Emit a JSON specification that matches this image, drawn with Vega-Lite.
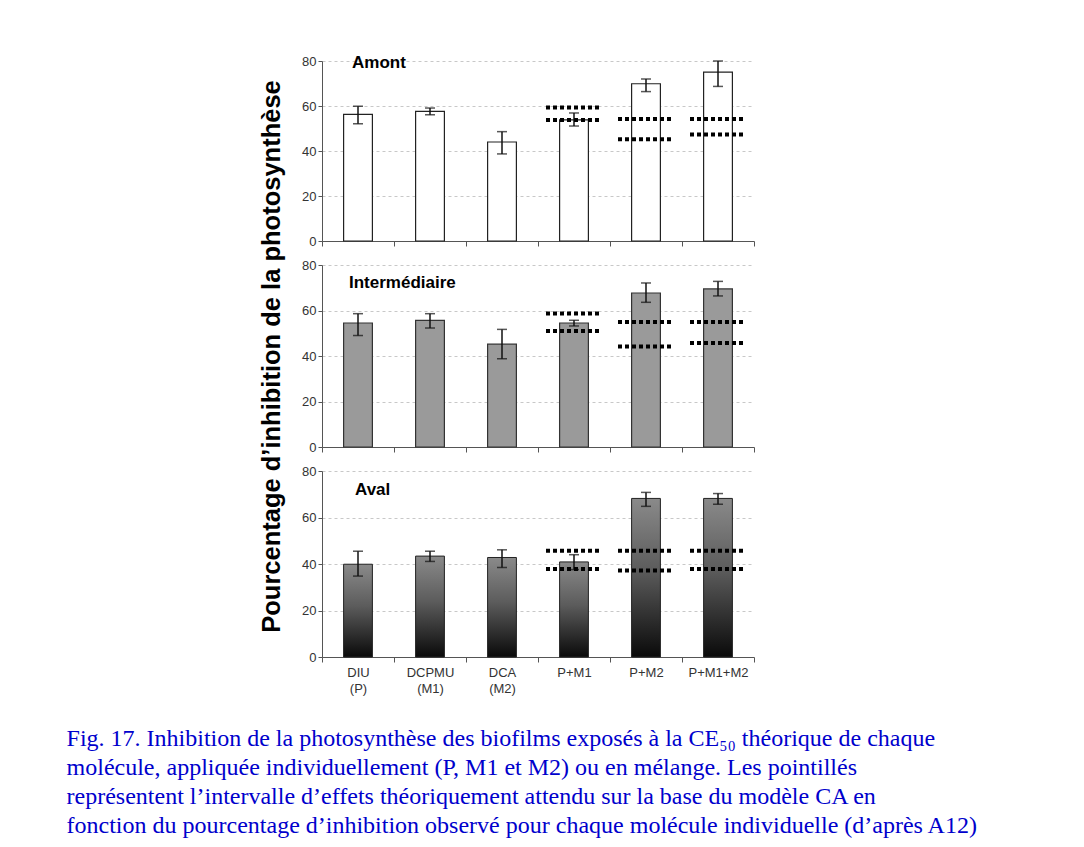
{
  "$schema": "https://vega.github.io/schema/vega-lite/v6.json",
  "background": "white",
  "padding": {"left": 66, "top": 54, "right": 5, "bottom": 5},
  "bounds": "flush",
  "spacing": 24,
  "datasets": {
    "bars": [
      {"panel": "Amont", "cat": "DIU (P)", "value": 56.3, "lo": 52.1, "hi": 59.9},
      {"panel": "Amont", "cat": "DCPMU (M1)", "value": 57.6, "lo": 56.1, "hi": 59.1},
      {"panel": "Amont", "cat": "DCA (M2)", "value": 44.0, "lo": 38.7, "hi": 48.6},
      {"panel": "Amont", "cat": "P+M1", "value": 53.8, "lo": 51.1, "hi": 56.9},
      {"panel": "Amont", "cat": "P+M2", "value": 69.9, "lo": 66.4, "hi": 72.0},
      {"panel": "Amont", "cat": "P+M1+M2", "value": 75.1, "lo": 68.7, "hi": 80.0},
      {"panel": "Inter", "cat": "DIU (P)", "value": 54.5, "lo": 49.0, "hi": 58.6},
      {"panel": "Inter", "cat": "DCPMU (M1)", "value": 55.7, "lo": 52.3, "hi": 58.6},
      {"panel": "Inter", "cat": "DCA (M2)", "value": 45.2, "lo": 38.8, "hi": 51.7},
      {"panel": "Inter", "cat": "P+M1", "value": 54.5, "lo": 53.2, "hi": 55.7},
      {"panel": "Inter", "cat": "P+M2", "value": 67.7, "lo": 63.6, "hi": 72.1},
      {"panel": "Inter", "cat": "P+M1+M2", "value": 69.5, "lo": 66.4, "hi": 72.8},
      {"panel": "Aval", "cat": "DIU (P)", "value": 39.9, "lo": 34.8, "hi": 45.5},
      {"panel": "Aval", "cat": "DCPMU (M1)", "value": 43.4, "lo": 41.1, "hi": 45.5},
      {"panel": "Aval", "cat": "DCA (M2)", "value": 42.8, "lo": 38.5, "hi": 46.1},
      {"panel": "Aval", "cat": "P+M1", "value": 40.9, "lo": 37.6, "hi": 44.0},
      {"panel": "Aval", "cat": "P+M2", "value": 68.2, "lo": 64.8, "hi": 70.8},
      {"panel": "Aval", "cat": "P+M1+M2", "value": 68.2, "lo": 65.7, "hi": 70.3}
    ],
    "dots": [
      {"panel": "Amont", "cat": "P+M1", "y": 59.3},
      {"panel": "Amont", "cat": "P+M1", "y": 53.8},
      {"panel": "Amont", "cat": "P+M2", "y": 54.2},
      {"panel": "Amont", "cat": "P+M2", "y": 45.2},
      {"panel": "Amont", "cat": "P+M1+M2", "y": 54.2},
      {"panel": "Amont", "cat": "P+M1+M2", "y": 47.3},
      {"panel": "Inter", "cat": "P+M1", "y": 58.7},
      {"panel": "Inter", "cat": "P+M1", "y": 51.0},
      {"panel": "Inter", "cat": "P+M2", "y": 54.9},
      {"panel": "Inter", "cat": "P+M2", "y": 44.2},
      {"panel": "Inter", "cat": "P+M1+M2", "y": 54.9},
      {"panel": "Inter", "cat": "P+M1+M2", "y": 45.7},
      {"panel": "Aval", "cat": "P+M1", "y": 45.7},
      {"panel": "Aval", "cat": "P+M1", "y": 37.9},
      {"panel": "Aval", "cat": "P+M2", "y": 45.7},
      {"panel": "Aval", "cat": "P+M2", "y": 37.2},
      {"panel": "Aval", "cat": "P+M1+M2", "y": 45.7},
      {"panel": "Aval", "cat": "P+M1+M2", "y": 37.9}
    ]
  },
  "title": {
    "text": [
      "Fig. 17. Inhibition de la photosynthèse des biofilms exposés à la CE₅₀ théorique de chaque",
      "molécule, appliquée individuellement (P, M1 et M2) ou en mélange. Les pointillés",
      "représentent l’intervalle d’effets théoriquement attendu sur la base du modèle CA en",
      "fonction du pourcentage d’inhibition observé pour chaque molécule individuelle (d’après A12)"
    ],
    "orient": "bottom",
    "anchor": "start",
    "frame": "bounds",
    "dx": -193,
    "offset": 32,
    "font": "Liberation Serif",
    "fontSize": 24,
    "fontWeight": "normal",
    "lineHeight": 29,
    "color": "#0000cc"
  },
  "config": {
    "font": "Liberation Sans",
    "view": {"stroke": null},
    "text": {"font": "Liberation Sans", "fontSize": 17, "fontWeight": "bold", "color": "black", "align": "left", "baseline": "alphabetic"},
    "axis": {
      "domainColor": "#555555",
      "tickColor": "#555555",
      "labelColor": "#333333",
      "labelFontSize": 13,
      "labelFont": "Liberation Sans",
      "tickSize": 4,
      "gridColor": "#c8c8c8",
      "gridDash": [3, 3]
    },
    "axisY": {
      "grid": true,
      "labelPadding": 2,
      "titleFontSize": 25.5,
      "titleFontWeight": "bold",
      "titleColor": "black",
      "titleFont": "Liberation Sans",
      "titlePadding": 17
    },
    "axisX": {
      "grid": false,
      "tickBand": "extent",
      "labelAngle": 0,
      "labelPadding": 4,
      "tickSize": 5,
      "labelLineHeight": 16
    }
  },
  "vconcat": [
    {
      "width": 432,
      "height": 180,
      "layer": [
        {
          "data": {"name": "bars"},
          "transform": [{"filter": "datum.panel === 'Amont'"}],
          "mark": {"type": "bar", "width": {"band": 0.4}, "fill": "white", "stroke": "#222222", "strokeWidth": 1.2},
          "encoding": {
            "x": {"field": "cat", "type": "nominal", "sort": ["DIU (P)", "DCPMU (M1)", "DCA (M2)", "P+M1", "P+M2", "P+M1+M2"], "scale": {"paddingInner": 0, "paddingOuter": 0}, "axis": {"labels": false, "title": null}},
            "y": {"field": "value", "type": "quantitative", "scale": {"domain": [0, 80]}, "axis": {"values": [0, 20, 40, 60, 80], "title": null}}
          }
        },
        {
          "data": {"name": "bars"},
          "transform": [{"filter": "datum.panel === 'Amont'"}],
          "mark": {"type": "errorbar", "ticks": {"size": 10, "color": "#111111", "thickness": 1.5}, "rule": {"strokeWidth": 1.5, "color": "#111111"}},
          "encoding": {
            "x": {"field": "cat", "type": "nominal", "sort": ["DIU (P)", "DCPMU (M1)", "DCA (M2)", "P+M1", "P+M2", "P+M1+M2"]},
            "y": {"field": "lo", "type": "quantitative", "title": null},
            "y2": {"field": "hi"}
          }
        },
        {
          "data": {"name": "dots"},
          "transform": [{"filter": "datum.panel === 'Amont'"}],
          "mark": {"type": "rule", "strokeDash": [4, 3], "strokeWidth": 4, "color": "black", "xOffset": -28, "x2Offset": 28},
          "encoding": {
            "x": {"field": "cat", "type": "nominal", "sort": ["DIU (P)", "DCPMU (M1)", "DCA (M2)", "P+M1", "P+M2", "P+M1+M2"], "bandPosition": 0.5},
            "x2": {"field": "cat"},
            "y": {"field": "y", "type": "quantitative", "title": null}
          }
        },
        {
          "data": {"values": [{"label": "Amont"}]},
          "mark": {"type": "text", "dx": 30, "dy": 7},
          "encoding": {
            "x": {"datum": "DIU (P)", "bandPosition": 0},
            "y": {"datum": 80},
            "text": {"field": "label"}
          }
        }
      ]
    },
    {
      "width": 432,
      "height": 182,
      "layer": [
        {
          "data": {"name": "bars"},
          "transform": [{"filter": "datum.panel === 'Inter'"}],
          "mark": {"type": "bar", "width": {"band": 0.4}, "fill": "#9a9a9a", "stroke": "#333333", "strokeWidth": 1.2},
          "encoding": {
            "x": {"field": "cat", "type": "nominal", "sort": ["DIU (P)", "DCPMU (M1)", "DCA (M2)", "P+M1", "P+M2", "P+M1+M2"], "scale": {"paddingInner": 0, "paddingOuter": 0}, "axis": {"labels": false, "title": null}},
            "y": {"field": "value", "type": "quantitative", "scale": {"domain": [0, 80]}, "title": "Pourcentage d’inhibition de la photosynthèse", "axis": {"values": [0, 20, 40, 60, 80]}}
          }
        },
        {
          "data": {"name": "bars"},
          "transform": [{"filter": "datum.panel === 'Inter'"}],
          "mark": {"type": "errorbar", "ticks": {"size": 10, "color": "#111111", "thickness": 1.5}, "rule": {"strokeWidth": 1.5, "color": "#111111"}},
          "encoding": {
            "x": {"field": "cat", "type": "nominal", "sort": ["DIU (P)", "DCPMU (M1)", "DCA (M2)", "P+M1", "P+M2", "P+M1+M2"]},
            "y": {"field": "lo", "type": "quantitative", "title": "Pourcentage d’inhibition de la photosynthèse"},
            "y2": {"field": "hi"}
          }
        },
        {
          "data": {"name": "dots"},
          "transform": [{"filter": "datum.panel === 'Inter'"}],
          "mark": {"type": "rule", "strokeDash": [4, 3], "strokeWidth": 4, "color": "black", "xOffset": -28, "x2Offset": 28},
          "encoding": {
            "x": {"field": "cat", "type": "nominal", "sort": ["DIU (P)", "DCPMU (M1)", "DCA (M2)", "P+M1", "P+M2", "P+M1+M2"], "bandPosition": 0.5},
            "x2": {"field": "cat"},
            "y": {"field": "y", "type": "quantitative", "title": "Pourcentage d’inhibition de la photosynthèse"}
          }
        },
        {
          "data": {"values": [{"label": "Intermédiaire"}]},
          "mark": {"type": "text", "dx": 27, "dy": 23},
          "encoding": {
            "x": {"datum": "DIU (P)", "bandPosition": 0},
            "y": {"datum": 80, "title": "Pourcentage d’inhibition de la photosynthèse"},
            "text": {"field": "label"}
          }
        }
      ]
    },
    {
      "width": 432,
      "height": 186,
      "layer": [
        {
          "data": {"name": "bars"},
          "transform": [{"filter": "datum.panel === 'Aval'"}],
          "mark": {"type": "bar", "width": {"band": 0.4}, "stroke": "#222222", "strokeWidth": 1,
            "fill": {"gradient": "linear", "x1": 0, "y1": 0, "x2": 0, "y2": 1, "stops": [{"offset": 0, "color": "#8a8a8a"}, {"offset": 0.45, "color": "#5c5c5c"}, {"offset": 1, "color": "#0a0a0a"}]}},
          "encoding": {
            "x": {"field": "cat", "type": "nominal", "sort": ["DIU (P)", "DCPMU (M1)", "DCA (M2)", "P+M1", "P+M2", "P+M1+M2"], "scale": {"paddingInner": 0, "paddingOuter": 0}, "axis": {"title": null, "labelExpr": "split(datum.label, ' ')"}},
            "y": {"field": "value", "type": "quantitative", "scale": {"domain": [0, 80]}, "axis": {"values": [0, 20, 40, 60, 80], "title": null}}
          }
        },
        {
          "data": {"name": "bars"},
          "transform": [{"filter": "datum.panel === 'Aval'"}],
          "mark": {"type": "errorbar", "ticks": {"size": 10, "color": "#111111", "thickness": 1.5}, "rule": {"strokeWidth": 1.5, "color": "#111111"}},
          "encoding": {
            "x": {"field": "cat", "type": "nominal", "sort": ["DIU (P)", "DCPMU (M1)", "DCA (M2)", "P+M1", "P+M2", "P+M1+M2"]},
            "y": {"field": "lo", "type": "quantitative", "title": null},
            "y2": {"field": "hi"}
          }
        },
        {
          "data": {"name": "dots"},
          "transform": [{"filter": "datum.panel === 'Aval'"}],
          "mark": {"type": "rule", "strokeDash": [4, 3], "strokeWidth": 4, "color": "black", "xOffset": -28, "x2Offset": 28},
          "encoding": {
            "x": {"field": "cat", "type": "nominal", "sort": ["DIU (P)", "DCPMU (M1)", "DCA (M2)", "P+M1", "P+M2", "P+M1+M2"], "bandPosition": 0.5},
            "x2": {"field": "cat"},
            "y": {"field": "y", "type": "quantitative", "title": null}
          }
        },
        {
          "data": {"values": [{"label": "Aval"}]},
          "mark": {"type": "text", "dx": 33, "dy": 24},
          "encoding": {
            "x": {"datum": "DIU (P)", "bandPosition": 0},
            "y": {"datum": 80, "title": null},
            "text": {"field": "label"}
          }
        }
      ]
    }
  ]
}
